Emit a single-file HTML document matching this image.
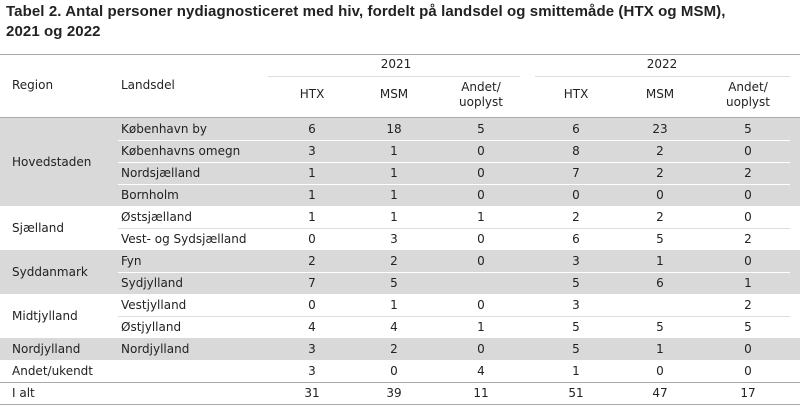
<!DOCTYPE html>
<html><head><meta charset="utf-8">
<style>
body{margin:0;width:800px;height:405px;background:#fff;font-family:"DejaVu Sans","Liberation Sans",sans-serif;color:#222;position:relative;overflow:hidden}
.a{position:absolute;white-space:nowrap;font-size:12px;line-height:22px}
.t{position:absolute;left:6px;font-weight:bold;font-size:15px;color:#222;font-family:"Liberation Sans",sans-serif;letter-spacing:0.1px}
.h{position:absolute;height:1px}
.c{transform:translateX(-50%);text-align:center}
</style></head><body>
<div class="t" style="top:3px">Tabel 2. Antal personer nydiagnosticeret med hiv, fordelt på landsdel og smittemåde (HTX og MSM),</div>
<div class="t" style="top:23px">2021 og 2022</div>
<div id="tbl"></div>
<script>
const regions=[["Hovedstaden",4,true],["Sjælland",2,false],["Syddanmark",2,true],["Midtjylland",2,false],["Nordjylland",1,true],["Andet/ukendt",1,false]];
const landsdele=["København by","Københavns omegn","Nordsjælland","Bornholm","Østsjælland","Vest- og Sydsjælland","Fyn","Sydjylland","Vestjylland","Østjylland","Nordjylland",""];
const htx2021=["6","3","1","1","1","0","2","7","0","4","3","3"];
const msm2021=["18","1","1","1","1","3","2","5","1","4","2","0"];
const and2021=["5","0","0","0","1","0","0","","0","1","0","4"];
const htx2022=["6","8","7","0","2","6","3","5","3","5","5","1"];
const msm2022=["23","2","2","0","2","5","1","6","","5","1","0"];
const and2022=["5","0","2","0","0","2","0","1","2","5","0","0"];
const totals=["31","39","11","51","47","17"];
const colX=[312,394,481,576,660,748];
const T=document.getElementById('tbl');
function el(cls,style,txt,name){const d=document.createElement('div');d.className=cls;d.style.cssText=style;if(txt!==undefined)d.textContent=txt;


T.appendChild(d);return d;}
el('h','left:0;width:800px;top:54px;background:#aaa',undefined,'header-top-rule');
el('h','left:268px;width:252px;top:76px;background:#ddd',undefined,'rule-2021');
el('h','left:535px;width:255px;top:76px;background:#ddd',undefined,'rule-2022');
el('h','left:0;width:800px;top:117px;background:#aaa',undefined,'header-bottom-rule');
el('a','left:12px;top:74px','Region','header-region');
el('a','left:121px;top:74px','Landsdel','header-landsdel');
el('a c','left:396px;top:53px','2021','header-2021');
el('a c','left:662px;top:53px','2022','header-2022');
const sub=["HTX","MSM","Andet/\nuoplyst","HTX","MSM","Andet/\nuoplyst"];
sub.forEach((s,i)=>{const d=el('a c','left:'+colX[i]+'px;top:'+(s.includes('\n')?80:87)+'px;white-space:pre;line-height:15px',s,'header-'+s.split('/')[0].toLowerCase()+'-'+(i<3?'2021':'2022'));});
let r=0;const y0=118,rh=22;
regions.forEach(([name,n,gray])=>{
 const top=y0+r*rh;
 if(gray)el('h','left:0;width:800px;top:'+top+'px;height:'+(n*rh)+'px;background:#d9d9d9',undefined,'region-band');
 el('a','left:12px;top:'+(top+(n*rh-22)/2)+'px',name,'region-label');
 for(let k=0;k<n;k++){
  const y=top+k*rh;
  if(k>0)el('h','left:118px;width:672px;top:'+y+'px;background:'+(gray?'#fff':'#ddd'),undefined,'row-separator');
  el('a','left:121px;top:'+y+'px',landsdele[r],'landsdel-label');
  [htx2021,msm2021,and2021,htx2022,msm2022,and2022].forEach((arr,i)=>{el('a c','left:'+colX[i]+'px;top:'+y+'px',arr[r],'cell-value');});
  r++;
 }
});
const ty=y0+r*rh;
el('h','left:0;width:800px;top:'+ty+'px;background:#aaa',undefined,'total-rule');
el('a','left:12px;top:'+ty+'px','I alt','total-label');
totals.forEach((v,i)=>el('a c','left:'+colX[i]+'px;top:'+ty+'px',v,'total-value'));
el('h','left:0;width:800px;top:'+(ty+22)+'px;background:#aaa',undefined,'bottom-rule');
</script>
</body></html>
